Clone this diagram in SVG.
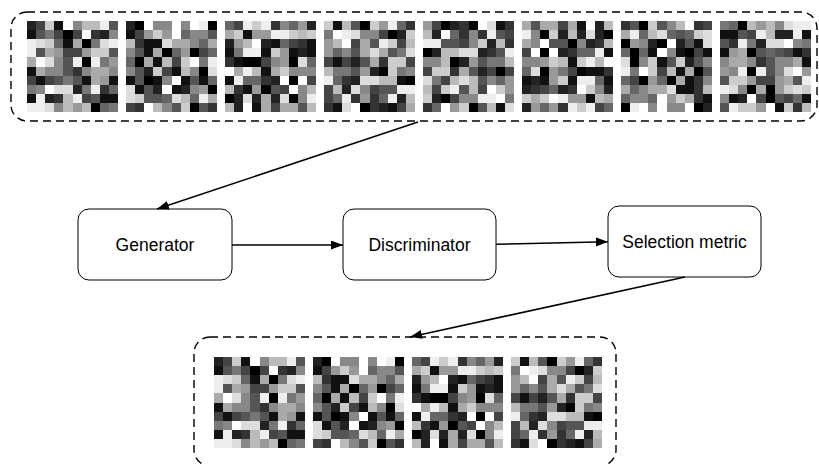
<svg xmlns="http://www.w3.org/2000/svg" xmlns:xlink="http://www.w3.org/1999/xlink" width="819" height="464" viewBox="0 0 819 464">
<style>
.img rect{width:1px;height:1px}
.img{shape-rendering:crispEdges}
.frame{fill:none;stroke:#000;stroke-width:1.4;stroke-dasharray:8 5}
.node rect{fill:#fff;stroke:#000;stroke-width:1}
.node text{font-family:"Liberation Sans",Arial,sans-serif;font-size:17.5px;fill:#000;text-anchor:middle}
.conn line{stroke:#000;stroke-width:1.6;fill:none}
</style>
<defs>
<marker id="ah" markerUnits="userSpaceOnUse" markerWidth="13" markerHeight="10" refX="12" refY="4.5" orient="auto">
<path d="M0,0 L12,4.5 L0,9 z" fill="#000"/>
</marker>
</defs>
<g id="top-batch">
<rect class="frame" x="11" y="12" width="806" height="109" rx="16"/>
<g id="img1" class="img" transform="translate(27,21) scale(9.1)">
<rect x="0" y="0" fill="#222"/><rect x="1" y="0" fill="#444"/><rect x="2" y="0" fill="#ccc"/><rect x="3" y="0" fill="#111"/><rect x="4" y="0" fill="#fff"/><rect x="5" y="0" fill="#888"/><rect x="6" y="0" fill="#bbb"/><rect x="7" y="0" fill="#bbb"/><rect x="8" y="0" fill="#eee"/><rect x="9" y="0" fill="#555"/>
<rect x="0" y="1" fill="#111"/><rect x="1" y="1" fill="#555"/><rect x="2" y="1" fill="#777"/><rect x="3" y="1" fill="#444"/><rect x="4" y="1" fill="#000"/><rect x="5" y="1" fill="#444"/><rect x="6" y="1" fill="#fff"/><rect x="7" y="1" fill="#333"/><rect x="8" y="1" fill="#222"/><rect x="9" y="1" fill="#888"/>
<rect x="0" y="2" fill="#eee"/><rect x="1" y="2" fill="#ddd"/><rect x="2" y="2" fill="#ccc"/><rect x="3" y="2" fill="#666"/><rect x="4" y="2" fill="#111"/><rect x="5" y="2" fill="#aaa"/><rect x="6" y="2" fill="#000"/><rect x="7" y="2" fill="#777"/><rect x="8" y="2" fill="#ddd"/><rect x="9" y="2" fill="#eee"/>
<rect x="0" y="3" fill="#eee"/><rect x="1" y="3" fill="#555"/><rect x="2" y="3" fill="#aaa"/><rect x="3" y="3" fill="#999"/><rect x="4" y="3" fill="#444"/><rect x="5" y="3" fill="#444"/><rect x="6" y="3" fill="#999"/><rect x="7" y="3" fill="#ccc"/><rect x="8" y="3" fill="#ccc"/><rect x="9" y="3" fill="#555"/>
<rect x="0" y="4" fill="#aaa"/><rect x="1" y="4" fill="#fff"/><rect x="2" y="4" fill="#ddd"/><rect x="3" y="4" fill="#888"/><rect x="4" y="4" fill="#555"/><rect x="5" y="4" fill="#eee"/><rect x="6" y="4" fill="#000"/><rect x="7" y="4" fill="#eee"/><rect x="8" y="4" fill="#777"/><rect x="9" y="4" fill="#999"/>
<rect x="0" y="5" fill="#111"/><rect x="1" y="5" fill="#aaa"/><rect x="2" y="5" fill="#888"/><rect x="3" y="5" fill="#888"/><rect x="4" y="5" fill="#555"/><rect x="5" y="5" fill="#333"/><rect x="6" y="5" fill="#888"/><rect x="7" y="5" fill="#aaa"/><rect x="8" y="5" fill="#aaa"/><rect x="9" y="5" fill="#888"/>
<rect x="0" y="6" fill="#444"/><rect x="1" y="6" fill="#111"/><rect x="2" y="6" fill="#444"/><rect x="3" y="6" fill="#555"/><rect x="4" y="6" fill="#777"/><rect x="5" y="6" fill="#555"/><rect x="6" y="6" fill="#111"/><rect x="7" y="6" fill="#aaa"/><rect x="8" y="6" fill="#999"/><rect x="9" y="6" fill="#111"/>
<rect x="0" y="7" fill="#777"/><rect x="1" y="7" fill="#888"/><rect x="2" y="7" fill="#fff"/><rect x="3" y="7" fill="#ddd"/><rect x="4" y="7" fill="#ddd"/><rect x="5" y="7" fill="#222"/><rect x="6" y="7" fill="#777"/><rect x="7" y="7" fill="#eee"/><rect x="8" y="7" fill="#333"/><rect x="9" y="7" fill="#666"/>
<rect x="0" y="8" fill="#111"/><rect x="1" y="8" fill="#eee"/><rect x="2" y="8" fill="#222"/><rect x="3" y="8" fill="#333"/><rect x="4" y="8" fill="#bbb"/><rect x="5" y="8" fill="#eee"/><rect x="6" y="8" fill="#444"/><rect x="7" y="8" fill="#555"/><rect x="8" y="8" fill="#111"/><rect x="9" y="8" fill="#111"/>
<rect x="0" y="9" fill="#eee"/><rect x="1" y="9" fill="#eee"/><rect x="2" y="9" fill="#ddd"/><rect x="3" y="9" fill="#888"/><rect x="4" y="9" fill="#bbb"/><rect x="5" y="9" fill="#999"/><rect x="6" y="9" fill="#bbb"/><rect x="7" y="9" fill="#000"/><rect x="8" y="9" fill="#666"/><rect x="9" y="9" fill="#777"/>
</g>
<g id="img2" class="img" transform="translate(126,21) scale(9.1)">
<rect x="0" y="0" fill="#222"/><rect x="1" y="0" fill="#000"/><rect x="2" y="0" fill="#fff"/><rect x="3" y="0" fill="#888"/><rect x="4" y="0" fill="#888"/><rect x="5" y="0" fill="#fff"/><rect x="6" y="0" fill="#888"/><rect x="7" y="0" fill="#fff"/><rect x="8" y="0" fill="#eee"/><rect x="9" y="0" fill="#000"/>
<rect x="0" y="1" fill="#111"/><rect x="1" y="1" fill="#444"/><rect x="2" y="1" fill="#999"/><rect x="3" y="1" fill="#ccc"/><rect x="4" y="1" fill="#999"/><rect x="5" y="1" fill="#fff"/><rect x="6" y="1" fill="#666"/><rect x="7" y="1" fill="#888"/><rect x="8" y="1" fill="#888"/><rect x="9" y="1" fill="#555"/>
<rect x="0" y="2" fill="#bbb"/><rect x="1" y="2" fill="#333"/><rect x="2" y="2" fill="#111"/><rect x="3" y="2" fill="#111"/><rect x="4" y="2" fill="#ddd"/><rect x="5" y="2" fill="#aaa"/><rect x="6" y="2" fill="#aaa"/><rect x="7" y="2" fill="#888"/><rect x="8" y="2" fill="#666"/><rect x="9" y="2" fill="#aaa"/>
<rect x="0" y="3" fill="#888"/><rect x="1" y="3" fill="#555"/><rect x="2" y="3" fill="#111"/><rect x="3" y="3" fill="#aaa"/><rect x="4" y="3" fill="#000"/><rect x="5" y="3" fill="#666"/><rect x="6" y="3" fill="#999"/><rect x="7" y="3" fill="#000"/><rect x="8" y="3" fill="#444"/><rect x="9" y="3" fill="#666"/>
<rect x="0" y="4" fill="#666"/><rect x="1" y="4" fill="#000"/><rect x="2" y="4" fill="#aaa"/><rect x="3" y="4" fill="#111"/><rect x="4" y="4" fill="#bbb"/><rect x="5" y="4" fill="#444"/><rect x="6" y="4" fill="#ccc"/><rect x="7" y="4" fill="#fff"/><rect x="8" y="4" fill="#777"/><rect x="9" y="4" fill="#eee"/>
<rect x="0" y="5" fill="#888"/><rect x="1" y="5" fill="#555"/><rect x="2" y="5" fill="#222"/><rect x="3" y="5" fill="#ccc"/><rect x="4" y="5" fill="#444"/><rect x="5" y="5" fill="#111"/><rect x="6" y="5" fill="#bbb"/><rect x="7" y="5" fill="#888"/><rect x="8" y="5" fill="#000"/><rect x="9" y="5" fill="#ddd"/>
<rect x="0" y="6" fill="#111"/><rect x="1" y="6" fill="#555"/><rect x="2" y="6" fill="#000"/><rect x="3" y="6" fill="#111"/><rect x="4" y="6" fill="#888"/><rect x="5" y="6" fill="#fff"/><rect x="6" y="6" fill="#111"/><rect x="7" y="6" fill="#555"/><rect x="8" y="6" fill="#111"/><rect x="9" y="6" fill="#666"/>
<rect x="0" y="7" fill="#ddd"/><rect x="1" y="7" fill="#111"/><rect x="2" y="7" fill="#555"/><rect x="3" y="7" fill="#222"/><rect x="4" y="7" fill="#fff"/><rect x="5" y="7" fill="#111"/><rect x="6" y="7" fill="#222"/><rect x="7" y="7" fill="#888"/><rect x="8" y="7" fill="#999"/><rect x="9" y="7" fill="#000"/>
<rect x="0" y="8" fill="#ddd"/><rect x="1" y="8" fill="#ccc"/><rect x="2" y="8" fill="#555"/><rect x="3" y="8" fill="#555"/><rect x="4" y="8" fill="#666"/><rect x="5" y="8" fill="#ddd"/><rect x="6" y="8" fill="#bbb"/><rect x="7" y="8" fill="#666"/><rect x="8" y="8" fill="#eee"/><rect x="9" y="8" fill="#aaa"/>
<rect x="0" y="9" fill="#444"/><rect x="1" y="9" fill="#333"/><rect x="2" y="9" fill="#fff"/><rect x="3" y="9" fill="#bbb"/><rect x="4" y="9" fill="#888"/><rect x="5" y="9" fill="#555"/><rect x="6" y="9" fill="#ccc"/><rect x="7" y="9" fill="#000"/><rect x="8" y="9" fill="#555"/><rect x="9" y="9" fill="#333"/>
</g>
<g id="img3" class="img" transform="translate(225,21) scale(9.1)">
<rect x="0" y="0" fill="#666"/><rect x="1" y="0" fill="#444"/><rect x="2" y="0" fill="#eee"/><rect x="3" y="0" fill="#ccc"/><rect x="4" y="0" fill="#eee"/><rect x="5" y="0" fill="#333"/><rect x="6" y="0" fill="#888"/><rect x="7" y="0" fill="#666"/><rect x="8" y="0" fill="#999"/><rect x="9" y="0" fill="#222"/>
<rect x="0" y="1" fill="#aaa"/><rect x="1" y="1" fill="#ccc"/><rect x="2" y="1" fill="#111"/><rect x="3" y="1" fill="#999"/><rect x="4" y="1" fill="#999"/><rect x="5" y="1" fill="#eee"/><rect x="6" y="1" fill="#eee"/><rect x="7" y="1" fill="#ccc"/><rect x="8" y="1" fill="#bbb"/><rect x="9" y="1" fill="#ccc"/>
<rect x="0" y="2" fill="#222"/><rect x="1" y="2" fill="#999"/><rect x="2" y="2" fill="#bbb"/><rect x="3" y="2" fill="#fff"/><rect x="4" y="2" fill="#222"/><rect x="5" y="2" fill="#111"/><rect x="6" y="2" fill="#666"/><rect x="7" y="2" fill="#444"/><rect x="8" y="2" fill="#333"/><rect x="9" y="2" fill="#111"/>
<rect x="0" y="3" fill="#111"/><rect x="1" y="3" fill="#777"/><rect x="2" y="3" fill="#eee"/><rect x="3" y="3" fill="#eee"/><rect x="4" y="3" fill="#111"/><rect x="5" y="3" fill="#ccc"/><rect x="6" y="3" fill="#999"/><rect x="7" y="3" fill="#111"/><rect x="8" y="3" fill="#222"/><rect x="9" y="3" fill="#111"/>
<rect x="0" y="4" fill="#333"/><rect x="1" y="4" fill="#111"/><rect x="2" y="4" fill="#000"/><rect x="3" y="4" fill="#000"/><rect x="4" y="4" fill="#444"/><rect x="5" y="4" fill="#888"/><rect x="6" y="4" fill="#999"/><rect x="7" y="4" fill="#000"/><rect x="8" y="4" fill="#ddd"/><rect x="9" y="4" fill="#666"/>
<rect x="0" y="5" fill="#fff"/><rect x="1" y="5" fill="#aaa"/><rect x="2" y="5" fill="#eee"/><rect x="3" y="5" fill="#bbb"/><rect x="4" y="5" fill="#111"/><rect x="5" y="5" fill="#aaa"/><rect x="6" y="5" fill="#ccc"/><rect x="7" y="5" fill="#888"/><rect x="8" y="5" fill="#888"/><rect x="9" y="5" fill="#888"/>
<rect x="0" y="6" fill="#111"/><rect x="1" y="6" fill="#eee"/><rect x="2" y="6" fill="#666"/><rect x="3" y="6" fill="#666"/><rect x="4" y="6" fill="#333"/><rect x="5" y="6" fill="#222"/><rect x="6" y="6" fill="#fff"/><rect x="7" y="6" fill="#000"/><rect x="8" y="6" fill="#fff"/><rect x="9" y="6" fill="#444"/>
<rect x="0" y="7" fill="#bbb"/><rect x="1" y="7" fill="#333"/><rect x="2" y="7" fill="#111"/><rect x="3" y="7" fill="#999"/><rect x="4" y="7" fill="#000"/><rect x="5" y="7" fill="#555"/><rect x="6" y="7" fill="#444"/><rect x="7" y="7" fill="#fff"/><rect x="8" y="7" fill="#888"/><rect x="9" y="7" fill="#bbb"/>
<rect x="0" y="8" fill="#000"/><rect x="1" y="8" fill="#222"/><rect x="2" y="8" fill="#ddd"/><rect x="3" y="8" fill="#222"/><rect x="4" y="8" fill="#aaa"/><rect x="5" y="8" fill="#222"/><rect x="6" y="8" fill="#ddd"/><rect x="7" y="8" fill="#000"/><rect x="8" y="8" fill="#888"/><rect x="9" y="8" fill="#eee"/>
<rect x="0" y="9" fill="#bbb"/><rect x="1" y="9" fill="#222"/><rect x="2" y="9" fill="#fff"/><rect x="3" y="9" fill="#111"/><rect x="4" y="9" fill="#aaa"/><rect x="5" y="9" fill="#444"/><rect x="6" y="9" fill="#aaa"/><rect x="7" y="9" fill="#aaa"/><rect x="8" y="9" fill="#555"/><rect x="9" y="9" fill="#bbb"/>
</g>
<g id="img4" class="img" transform="translate(324,21) scale(9.1)">
<rect x="0" y="0" fill="#ccc"/><rect x="1" y="0" fill="#111"/><rect x="2" y="0" fill="#bbb"/><rect x="3" y="0" fill="#555"/><rect x="4" y="0" fill="#000"/><rect x="5" y="0" fill="#ccc"/><rect x="6" y="0" fill="#999"/><rect x="7" y="0" fill="#eee"/><rect x="8" y="0" fill="#666"/><rect x="9" y="0" fill="#333"/>
<rect x="0" y="1" fill="#777"/><rect x="1" y="1" fill="#fff"/><rect x="2" y="1" fill="#eee"/><rect x="3" y="1" fill="#ddd"/><rect x="4" y="1" fill="#888"/><rect x="5" y="1" fill="#888"/><rect x="6" y="1" fill="#444"/><rect x="7" y="1" fill="#000"/><rect x="8" y="1" fill="#222"/><rect x="9" y="1" fill="#ccc"/>
<rect x="0" y="2" fill="#999"/><rect x="1" y="2" fill="#bbb"/><rect x="2" y="2" fill="#fff"/><rect x="3" y="2" fill="#444"/><rect x="4" y="2" fill="#aaa"/><rect x="5" y="2" fill="#555"/><rect x="6" y="2" fill="#eee"/><rect x="7" y="2" fill="#ccc"/><rect x="8" y="2" fill="#444"/><rect x="9" y="2" fill="#bbb"/>
<rect x="0" y="3" fill="#999"/><rect x="1" y="3" fill="#666"/><rect x="2" y="3" fill="#888"/><rect x="3" y="3" fill="#555"/><rect x="4" y="3" fill="#aaa"/><rect x="5" y="3" fill="#ddd"/><rect x="6" y="3" fill="#aaa"/><rect x="7" y="3" fill="#555"/><rect x="8" y="3" fill="#777"/><rect x="9" y="3" fill="#ddd"/>
<rect x="0" y="4" fill="#444"/><rect x="1" y="4" fill="#111"/><rect x="2" y="4" fill="#444"/><rect x="3" y="4" fill="#222"/><rect x="4" y="4" fill="#555"/><rect x="5" y="4" fill="#aaa"/><rect x="6" y="4" fill="#333"/><rect x="7" y="4" fill="#ccc"/><rect x="8" y="4" fill="#ccc"/><rect x="9" y="4" fill="#444"/>
<rect x="0" y="5" fill="#bbb"/><rect x="1" y="5" fill="#777"/><rect x="2" y="5" fill="#777"/><rect x="3" y="5" fill="#555"/><rect x="4" y="5" fill="#999"/><rect x="5" y="5" fill="#222"/><rect x="6" y="5" fill="#000"/><rect x="7" y="5" fill="#ccc"/><rect x="8" y="5" fill="#777"/><rect x="9" y="5" fill="#888"/>
<rect x="0" y="6" fill="#eee"/><rect x="1" y="6" fill="#666"/><rect x="2" y="6" fill="#333"/><rect x="3" y="6" fill="#222"/><rect x="4" y="6" fill="#ddd"/><rect x="5" y="6" fill="#ddd"/><rect x="6" y="6" fill="#bbb"/><rect x="7" y="6" fill="#bbb"/><rect x="8" y="6" fill="#111"/><rect x="9" y="6" fill="#000"/>
<rect x="0" y="7" fill="#444"/><rect x="1" y="7" fill="#bbb"/><rect x="2" y="7" fill="#222"/><rect x="3" y="7" fill="#ddd"/><rect x="4" y="7" fill="#888"/><rect x="5" y="7" fill="#444"/><rect x="6" y="7" fill="#555"/><rect x="7" y="7" fill="#555"/><rect x="8" y="7" fill="#eee"/><rect x="9" y="7" fill="#eee"/>
<rect x="0" y="8" fill="#444"/><rect x="1" y="8" fill="#666"/><rect x="2" y="8" fill="#eee"/><rect x="3" y="8" fill="#333"/><rect x="4" y="8" fill="#999"/><rect x="5" y="8" fill="#333"/><rect x="6" y="8" fill="#666"/><rect x="7" y="8" fill="#eee"/><rect x="8" y="8" fill="#222"/><rect x="9" y="8" fill="#bbb"/>
<rect x="0" y="9" fill="#333"/><rect x="1" y="9" fill="#111"/><rect x="2" y="9" fill="#ddd"/><rect x="3" y="9" fill="#fff"/><rect x="4" y="9" fill="#000"/><rect x="5" y="9" fill="#333"/><rect x="6" y="9" fill="#222"/><rect x="7" y="9" fill="#111"/><rect x="8" y="9" fill="#444"/><rect x="9" y="9" fill="#aaa"/>
</g>
<g id="img5" class="img" transform="translate(423,21) scale(9.1)">
<rect x="0" y="0" fill="#999"/><rect x="1" y="0" fill="#444"/><rect x="2" y="0" fill="#000"/><rect x="3" y="0" fill="#222"/><rect x="4" y="0" fill="#333"/><rect x="5" y="0" fill="#000"/><rect x="6" y="0" fill="#fff"/><rect x="7" y="0" fill="#ddd"/><rect x="8" y="0" fill="#111"/><rect x="9" y="0" fill="#333"/>
<rect x="0" y="1" fill="#bbb"/><rect x="1" y="1" fill="#222"/><rect x="2" y="1" fill="#fff"/><rect x="3" y="1" fill="#666"/><rect x="4" y="1" fill="#333"/><rect x="5" y="1" fill="#888"/><rect x="6" y="1" fill="#333"/><rect x="7" y="1" fill="#eee"/><rect x="8" y="1" fill="#555"/><rect x="9" y="1" fill="#444"/>
<rect x="0" y="2" fill="#eee"/><rect x="1" y="2" fill="#eee"/><rect x="2" y="2" fill="#555"/><rect x="3" y="2" fill="#555"/><rect x="4" y="2" fill="#444"/><rect x="5" y="2" fill="#888"/><rect x="6" y="2" fill="#ccc"/><rect x="7" y="2" fill="#222"/><rect x="8" y="2" fill="#bbb"/><rect x="9" y="2" fill="#333"/>
<rect x="0" y="3" fill="#000"/><rect x="1" y="3" fill="#222"/><rect x="2" y="3" fill="#bbb"/><rect x="3" y="3" fill="#bbb"/><rect x="4" y="3" fill="#ddd"/><rect x="5" y="3" fill="#ddd"/><rect x="6" y="3" fill="#222"/><rect x="7" y="3" fill="#333"/><rect x="8" y="3" fill="#555"/><rect x="9" y="3" fill="#eee"/>
<rect x="0" y="4" fill="#888"/><rect x="1" y="4" fill="#888"/><rect x="2" y="4" fill="#bbb"/><rect x="3" y="4" fill="#000"/><rect x="4" y="4" fill="#222"/><rect x="5" y="4" fill="#999"/><rect x="6" y="4" fill="#555"/><rect x="7" y="4" fill="#777"/><rect x="8" y="4" fill="#777"/><rect x="9" y="4" fill="#bbb"/>
<rect x="0" y="5" fill="#444"/><rect x="1" y="5" fill="#ccc"/><rect x="2" y="5" fill="#ccc"/><rect x="3" y="5" fill="#333"/><rect x="4" y="5" fill="#aaa"/><rect x="5" y="5" fill="#555"/><rect x="6" y="5" fill="#222"/><rect x="7" y="5" fill="#444"/><rect x="8" y="5" fill="#000"/><rect x="9" y="5" fill="#444"/>
<rect x="0" y="6" fill="#ddd"/><rect x="1" y="6" fill="#777"/><rect x="2" y="6" fill="#444"/><rect x="3" y="6" fill="#bbb"/><rect x="4" y="6" fill="#ddd"/><rect x="5" y="6" fill="#bbb"/><rect x="6" y="6" fill="#555"/><rect x="7" y="6" fill="#888"/><rect x="8" y="6" fill="#666"/><rect x="9" y="6" fill="#999"/>
<rect x="0" y="7" fill="#bbb"/><rect x="1" y="7" fill="#444"/><rect x="2" y="7" fill="#ccc"/><rect x="3" y="7" fill="#eee"/><rect x="4" y="7" fill="#555"/><rect x="5" y="7" fill="#bbb"/><rect x="6" y="7" fill="#444"/><rect x="7" y="7" fill="#fff"/><rect x="8" y="7" fill="#ccc"/><rect x="9" y="7" fill="#999"/>
<rect x="0" y="8" fill="#ccc"/><rect x="1" y="8" fill="#222"/><rect x="2" y="8" fill="#000"/><rect x="3" y="8" fill="#444"/><rect x="4" y="8" fill="#888"/><rect x="5" y="8" fill="#888"/><rect x="6" y="8" fill="#eee"/><rect x="7" y="8" fill="#eee"/><rect x="8" y="8" fill="#fff"/><rect x="9" y="8" fill="#777"/>
<rect x="0" y="9" fill="#333"/><rect x="1" y="9" fill="#666"/><rect x="2" y="9" fill="#fff"/><rect x="3" y="9" fill="#999"/><rect x="4" y="9" fill="#ccc"/><rect x="5" y="9" fill="#000"/><rect x="6" y="9" fill="#555"/><rect x="7" y="9" fill="#bbb"/><rect x="8" y="9" fill="#111"/><rect x="9" y="9" fill="#ddd"/>
</g>
<g id="img6" class="img" transform="translate(522,21) scale(9.1)">
<rect x="0" y="0" fill="#aaa"/><rect x="1" y="0" fill="#555"/><rect x="2" y="0" fill="#aaa"/><rect x="3" y="0" fill="#aaa"/><rect x="4" y="0" fill="#444"/><rect x="5" y="0" fill="#aaa"/><rect x="6" y="0" fill="#111"/><rect x="7" y="0" fill="#fff"/><rect x="8" y="0" fill="#222"/><rect x="9" y="0" fill="#bbb"/>
<rect x="0" y="1" fill="#eee"/><rect x="1" y="1" fill="#888"/><rect x="2" y="1" fill="#000"/><rect x="3" y="1" fill="#ccc"/><rect x="4" y="1" fill="#222"/><rect x="5" y="1" fill="#bbb"/><rect x="6" y="1" fill="#222"/><rect x="7" y="1" fill="#ddd"/><rect x="8" y="1" fill="#222"/><rect x="9" y="1" fill="#000"/>
<rect x="0" y="2" fill="#aaa"/><rect x="1" y="2" fill="#888"/><rect x="2" y="2" fill="#fff"/><rect x="3" y="2" fill="#555"/><rect x="4" y="2" fill="#555"/><rect x="5" y="2" fill="#000"/><rect x="6" y="2" fill="#888"/><rect x="7" y="2" fill="#222"/><rect x="8" y="2" fill="#333"/><rect x="9" y="2" fill="#bbb"/>
<rect x="0" y="3" fill="#444"/><rect x="1" y="3" fill="#fff"/><rect x="2" y="3" fill="#000"/><rect x="3" y="3" fill="#fff"/><rect x="4" y="3" fill="#222"/><rect x="5" y="3" fill="#333"/><rect x="6" y="3" fill="#666"/><rect x="7" y="3" fill="#666"/><rect x="8" y="3" fill="#eee"/><rect x="9" y="3" fill="#111"/>
<rect x="0" y="4" fill="#888"/><rect x="1" y="4" fill="#888"/><rect x="2" y="4" fill="#999"/><rect x="3" y="4" fill="#ccc"/><rect x="4" y="4" fill="#bbb"/><rect x="5" y="4" fill="#111"/><rect x="6" y="4" fill="#ccc"/><rect x="7" y="4" fill="#eee"/><rect x="8" y="4" fill="#bbb"/><rect x="9" y="4" fill="#fff"/>
<rect x="0" y="5" fill="#666"/><rect x="1" y="5" fill="#ddd"/><rect x="2" y="5" fill="#000"/><rect x="3" y="5" fill="#999"/><rect x="4" y="5" fill="#777"/><rect x="5" y="5" fill="#444"/><rect x="6" y="5" fill="#000"/><rect x="7" y="5" fill="#111"/><rect x="8" y="5" fill="#111"/><rect x="9" y="5" fill="#333"/>
<rect x="0" y="6" fill="#111"/><rect x="1" y="6" fill="#222"/><rect x="2" y="6" fill="#111"/><rect x="3" y="6" fill="#999"/><rect x="4" y="6" fill="#ccc"/><rect x="5" y="6" fill="#111"/><rect x="6" y="6" fill="#eee"/><rect x="7" y="6" fill="#eee"/><rect x="8" y="6" fill="#666"/><rect x="9" y="6" fill="#111"/>
<rect x="0" y="7" fill="#222"/><rect x="1" y="7" fill="#333"/><rect x="2" y="7" fill="#444"/><rect x="3" y="7" fill="#666"/><rect x="4" y="7" fill="#222"/><rect x="5" y="7" fill="#333"/><rect x="6" y="7" fill="#fff"/><rect x="7" y="7" fill="#ccc"/><rect x="8" y="7" fill="#888"/><rect x="9" y="7" fill="#222"/>
<rect x="0" y="8" fill="#ccc"/><rect x="1" y="8" fill="#aaa"/><rect x="2" y="8" fill="#ccc"/><rect x="3" y="8" fill="#fff"/><rect x="4" y="8" fill="#eee"/><rect x="5" y="8" fill="#999"/><rect x="6" y="8" fill="#999"/><rect x="7" y="8" fill="#111"/><rect x="8" y="8" fill="#bbb"/><rect x="9" y="8" fill="#aaa"/>
<rect x="0" y="9" fill="#222"/><rect x="1" y="9" fill="#999"/><rect x="2" y="9" fill="#666"/><rect x="3" y="9" fill="#999"/><rect x="4" y="9" fill="#333"/><rect x="5" y="9" fill="#eee"/><rect x="6" y="9" fill="#ccc"/><rect x="7" y="9" fill="#eee"/><rect x="8" y="9" fill="#444"/><rect x="9" y="9" fill="#666"/>
</g>
<g id="img7" class="img" transform="translate(621,21) scale(9.1)">
<rect x="0" y="0" fill="#333"/><rect x="1" y="0" fill="#555"/><rect x="2" y="0" fill="#000"/><rect x="3" y="0" fill="#ccc"/><rect x="4" y="0" fill="#555"/><rect x="5" y="0" fill="#888"/><rect x="6" y="0" fill="#bbb"/><rect x="7" y="0" fill="#fff"/><rect x="8" y="0" fill="#333"/><rect x="9" y="0" fill="#444"/>
<rect x="0" y="1" fill="#aaa"/><rect x="1" y="1" fill="#eee"/><rect x="2" y="1" fill="#666"/><rect x="3" y="1" fill="#bbb"/><rect x="4" y="1" fill="#ddd"/><rect x="5" y="1" fill="#666"/><rect x="6" y="1" fill="#555"/><rect x="7" y="1" fill="#666"/><rect x="8" y="1" fill="#ccc"/><rect x="9" y="1" fill="#ddd"/>
<rect x="0" y="2" fill="#000"/><rect x="1" y="2" fill="#999"/><rect x="2" y="2" fill="#888"/><rect x="3" y="2" fill="#222"/><rect x="4" y="2" fill="#000"/><rect x="5" y="2" fill="#fff"/><rect x="6" y="2" fill="#222"/><rect x="7" y="2" fill="#555"/><rect x="8" y="2" fill="#111"/><rect x="9" y="2" fill="#ddd"/>
<rect x="0" y="3" fill="#666"/><rect x="1" y="3" fill="#000"/><rect x="2" y="3" fill="#666"/><rect x="3" y="3" fill="#111"/><rect x="4" y="3" fill="#fff"/><rect x="5" y="3" fill="#888"/><rect x="6" y="3" fill="#111"/><rect x="7" y="3" fill="#000"/><rect x="8" y="3" fill="#444"/><rect x="9" y="3" fill="#111"/>
<rect x="0" y="4" fill="#ddd"/><rect x="1" y="4" fill="#000"/><rect x="2" y="4" fill="#888"/><rect x="3" y="4" fill="#ccc"/><rect x="4" y="4" fill="#111"/><rect x="5" y="4" fill="#555"/><rect x="6" y="4" fill="#ccc"/><rect x="7" y="4" fill="#222"/><rect x="8" y="4" fill="#555"/><rect x="9" y="4" fill="#888"/>
<rect x="0" y="5" fill="#eee"/><rect x="1" y="5" fill="#777"/><rect x="2" y="5" fill="#fff"/><rect x="3" y="5" fill="#ccc"/><rect x="4" y="5" fill="#444"/><rect x="5" y="5" fill="#bbb"/><rect x="6" y="5" fill="#111"/><rect x="7" y="5" fill="#aaa"/><rect x="8" y="5" fill="#000"/><rect x="9" y="5" fill="#555"/>
<rect x="0" y="6" fill="#666"/><rect x="1" y="6" fill="#444"/><rect x="2" y="6" fill="#000"/><rect x="3" y="6" fill="#999"/><rect x="4" y="6" fill="#666"/><rect x="5" y="6" fill="#000"/><rect x="6" y="6" fill="#aaa"/><rect x="7" y="6" fill="#111"/><rect x="8" y="6" fill="#333"/><rect x="9" y="6" fill="#888"/>
<rect x="0" y="7" fill="#aaa"/><rect x="1" y="7" fill="#666"/><rect x="2" y="7" fill="#888"/><rect x="3" y="7" fill="#aaa"/><rect x="4" y="7" fill="#aaa"/><rect x="5" y="7" fill="#ddd"/><rect x="6" y="7" fill="#111"/><rect x="7" y="7" fill="#111"/><rect x="8" y="7" fill="#333"/><rect x="9" y="7" fill="#bbb"/>
<rect x="0" y="8" fill="#666"/><rect x="1" y="8" fill="#888"/><rect x="2" y="8" fill="#888"/><rect x="3" y="8" fill="#666"/><rect x="4" y="8" fill="#fff"/><rect x="5" y="8" fill="#999"/><rect x="6" y="8" fill="#ccc"/><rect x="7" y="8" fill="#aaa"/><rect x="8" y="8" fill="#333"/><rect x="9" y="8" fill="#111"/>
<rect x="0" y="9" fill="#000"/><rect x="1" y="9" fill="#eee"/><rect x="2" y="9" fill="#fff"/><rect x="3" y="9" fill="#888"/><rect x="4" y="9" fill="#fff"/><rect x="5" y="9" fill="#888"/><rect x="6" y="9" fill="#888"/><rect x="7" y="9" fill="#fff"/><rect x="8" y="9" fill="#000"/><rect x="9" y="9" fill="#222"/>
</g>
<g id="img8" class="img" transform="translate(720,21) scale(9.1)">
<rect x="0" y="0" fill="#777"/><rect x="1" y="0" fill="#666"/><rect x="2" y="0" fill="#000"/><rect x="3" y="0" fill="#bbb"/><rect x="4" y="0" fill="#999"/><rect x="5" y="0" fill="#bbb"/><rect x="6" y="0" fill="#888"/><rect x="7" y="0" fill="#ddd"/><rect x="8" y="0" fill="#eee"/><rect x="9" y="0" fill="#eee"/>
<rect x="0" y="1" fill="#111"/><rect x="1" y="1" fill="#111"/><rect x="2" y="1" fill="#555"/><rect x="3" y="1" fill="#444"/><rect x="4" y="1" fill="#eee"/><rect x="5" y="1" fill="#bbb"/><rect x="6" y="1" fill="#222"/><rect x="7" y="1" fill="#222"/><rect x="8" y="1" fill="#eee"/><rect x="9" y="1" fill="#111"/>
<rect x="0" y="2" fill="#555"/><rect x="1" y="2" fill="#333"/><rect x="2" y="2" fill="#eee"/><rect x="3" y="2" fill="#777"/><rect x="4" y="2" fill="#222"/><rect x="5" y="2" fill="#ddd"/><rect x="6" y="2" fill="#ddd"/><rect x="7" y="2" fill="#fff"/><rect x="8" y="2" fill="#888"/><rect x="9" y="2" fill="#777"/>
<rect x="0" y="3" fill="#111"/><rect x="1" y="3" fill="#999"/><rect x="2" y="3" fill="#aaa"/><rect x="3" y="3" fill="#000"/><rect x="4" y="3" fill="#555"/><rect x="5" y="3" fill="#666"/><rect x="6" y="3" fill="#555"/><rect x="7" y="3" fill="#444"/><rect x="8" y="3" fill="#111"/><rect x="9" y="3" fill="#333"/>
<rect x="0" y="4" fill="#888"/><rect x="1" y="4" fill="#aaa"/><rect x="2" y="4" fill="#aaa"/><rect x="3" y="4" fill="#888"/><rect x="4" y="4" fill="#333"/><rect x="5" y="4" fill="#555"/><rect x="6" y="4" fill="#888"/><rect x="7" y="4" fill="#888"/><rect x="8" y="4" fill="#aaa"/><rect x="9" y="4" fill="#111"/>
<rect x="0" y="5" fill="#999"/><rect x="1" y="5" fill="#888"/><rect x="2" y="5" fill="#eee"/><rect x="3" y="5" fill="#000"/><rect x="4" y="5" fill="#eee"/><rect x="5" y="5" fill="#555"/><rect x="6" y="5" fill="#888"/><rect x="7" y="5" fill="#ddd"/><rect x="8" y="5" fill="#fff"/><rect x="9" y="5" fill="#999"/>
<rect x="0" y="6" fill="#555"/><rect x="1" y="6" fill="#ccc"/><rect x="2" y="6" fill="#ccc"/><rect x="3" y="6" fill="#999"/><rect x="4" y="6" fill="#444"/><rect x="5" y="6" fill="#444"/><rect x="6" y="6" fill="#999"/><rect x="7" y="6" fill="#aaa"/><rect x="8" y="6" fill="#555"/><rect x="9" y="6" fill="#eee"/>
<rect x="0" y="7" fill="#eee"/><rect x="1" y="7" fill="#ddd"/><rect x="2" y="7" fill="#888"/><rect x="3" y="7" fill="#000"/><rect x="4" y="7" fill="#aaa"/><rect x="5" y="7" fill="#000"/><rect x="6" y="7" fill="#999"/><rect x="7" y="7" fill="#ccc"/><rect x="8" y="7" fill="#ddd"/><rect x="9" y="7" fill="#ccc"/>
<rect x="0" y="8" fill="#888"/><rect x="1" y="8" fill="#111"/><rect x="2" y="8" fill="#222"/><rect x="3" y="8" fill="#fff"/><rect x="4" y="8" fill="#444"/><rect x="5" y="8" fill="#000"/><rect x="6" y="8" fill="#555"/><rect x="7" y="8" fill="#444"/><rect x="8" y="8" fill="#666"/><rect x="9" y="8" fill="#111"/>
<rect x="0" y="9" fill="#555"/><rect x="1" y="9" fill="#eee"/><rect x="2" y="9" fill="#ccc"/><rect x="3" y="9" fill="#ccc"/><rect x="4" y="9" fill="#999"/><rect x="5" y="9" fill="#fff"/><rect x="6" y="9" fill="#111"/><rect x="7" y="9" fill="#ccc"/><rect x="8" y="9" fill="#333"/><rect x="9" y="9" fill="#bbb"/>
</g>
</g>
<g id="bottom-batch">
<rect class="frame" x="194" y="337" width="422" height="129" rx="16"/>
<use href="#img1" xlink:href="#img1" transform="translate(187,336)"/>
<use href="#img2" xlink:href="#img2" transform="translate(187,336)"/>
<use href="#img3" xlink:href="#img3" transform="translate(187,336)"/>
<use href="#img4" xlink:href="#img4" transform="translate(187,336)"/>
</g>
<g id="generator" class="node">
<rect x="78" y="209" width="154" height="71" rx="11"/>
<text x="155" y="251">Generator</text>
</g>
<g id="discriminator" class="node">
<rect x="343" y="209" width="153" height="71" rx="11"/>
<text x="419.5" y="251">Discriminator</text>
</g>
<g id="selection-metric" class="node">
<rect x="608" y="206" width="153" height="71" rx="11"/>
<text x="684.5" y="248">Selection metric</text>
</g>
<g id="connectors" class="conn">
<line x1="418" y1="122" x2="157" y2="209" marker-end="url(#ah)"/>
<line x1="232" y1="245" x2="343" y2="245" marker-end="url(#ah)"/>
<line x1="496" y1="244.3" x2="608" y2="241.7" marker-end="url(#ah)"/>
<line x1="685" y1="277" x2="410" y2="337" marker-end="url(#ah)"/>
</g>
</svg>
